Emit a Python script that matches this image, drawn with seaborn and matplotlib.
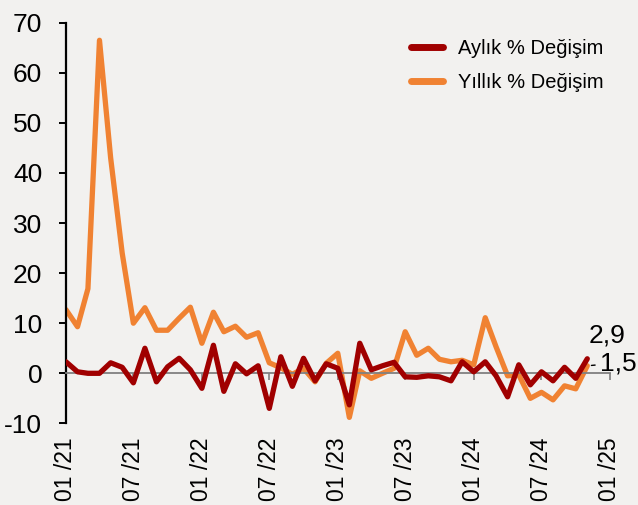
import pandas as pd
import matplotlib.pyplot as plt
import numpy as np
import seaborn as sns

# Monthly data, 01/21 - 11/24
months = pd.date_range("2021-01-01", periods=47, freq="MS")

aylik = [2.3, 0.3, 0.0, 0.0, 2.1, 1.2, -1.9, 5.0, -1.7, 1.3,
         3.0, 0.7, -3.0, 5.6, -3.6, 1.9, -0.1, 1.5, -7.0, 3.3,
         -2.6, 3.0, -1.5, 1.9, 1.0, -6.3, 6.0, 0.7, 1.5, 2.2,
         -0.7, -0.8, -0.5, -0.7, -1.5, 2.3, 0.3, 2.3, -0.5, -4.7,
         1.7, -2.3, 0.3, -1.5, 1.2, -1.0, 2.9]

yillik = [12.7, 9.3, 16.9, 66.5, 43.0, 24.0, 10.0, 13.1, 8.6, 8.6,
          11.0, 13.2, 6.0, 12.2, 8.3, 9.4, 7.2, 8.1, 2.1, 1.1,
          -0.2, 1.0, -1.7, 2.0, 4.0, -8.8, 0.5, -1.0, 0.0, 1.0,
          8.3, 3.6, 5.0, 2.8, 2.3, 2.6, 1.7, 11.1, 5.3, -0.5,
          -0.3, -5.0, -3.8, -5.3, -2.5, -3.1, 1.5]

tick_dates = pd.date_range("2021-01-01", "2025-01-01", freq="6MS")
tick_labels = ["01 /21", "07 /21", "01 /22", "07 /22", "01 /23",
               "07 /23", "01 /24", "07 /24", "01 /25"]

series_names = ["Aylık % Değişim", "Yıllık % Değişim"]
colors = ["#a00000", "#f08232"]

df = pd.DataFrame({"Tarih": months, series_names[0]: aylik, series_names[1]: yillik})

sns.set_style("ticks")
plt.rcParams["font.family"] = ["Liberation Sans", "DejaVu Sans"]
plt.rcParams["axes.unicode_minus"] = False
plt.rcParams["text.color"] = "black"

bg = "#f2f1ef"
fig = plt.figure(figsize=(6.38, 5.05), dpi=100, facecolor=bg)
ax = fig.add_axes([0.1034, 0.1616, 0.8527, 0.7934], facecolor=bg)

sns.lineplot(data=df, x="Tarih", y=series_names[0], color=colors[0], lw=3.8,
             label=series_names[0], ax=ax, zorder=3)
sns.lineplot(data=df, x="Tarih", y=series_names[1], color=colors[1], lw=3.8,
             label=series_names[1], ax=ax, zorder=2)

ax.set_xlim(tick_dates[0], tick_dates[-1])
ax.set_ylim(-10, 70)
ax.set_yticks(np.arange(-10, 71, 10))
ax.set_xticks(tick_dates)
ax.set_xticklabels(tick_labels)
ax.set_xlabel("")
ax.set_ylabel("")

# x axis line at zero, labels pushed down to the bottom
for s in ["top", "right"]:
    ax.spines[s].set_visible(False)
ax.spines["bottom"].set_position(("data", 0))
ax.spines["bottom"].set_color("#808080")
ax.spines["bottom"].set_linewidth(1.3)
ax.spines["left"].set_color("black")
ax.spines["left"].set_linewidth(1.6)
ax.tick_params(axis="x", direction="out", length=5, width=1.2, color="#808080",
               labelcolor="black", labelsize=16.5, labelrotation=90, pad=41)
ax.tick_params(axis="y", direction="out", length=5, width=1.4, color="black",
               labelcolor="black", labelsize=19, pad=12)

leg = ax.legend(loc="upper left", bbox_to_anchor=(0.6, 1.005), frameon=False,
                fontsize=14.5, handlelength=1.6, handletextpad=0.75, labelspacing=0.75)
for line in leg.get_lines():
    line.set_linewidth(5)
for t in leg.get_texts():
    t.set_color("black")

# end labels
ax.annotate("2,9", xy=(months[-1], aylik[-1]), xytext=(1, 17), textcoords="offset points",
            fontsize=19, ha="left", va="center")
ax.annotate("1,5", xy=(months[-1], yillik[-1]), xytext=(9, 2), textcoords="offset points",
            fontsize=19, ha="left", va="center",
            arrowprops=dict(arrowstyle="-", color="black", lw=1, shrinkA=1, shrinkB=3))

fig.savefig("out.png", dpi=100, facecolor=bg)
